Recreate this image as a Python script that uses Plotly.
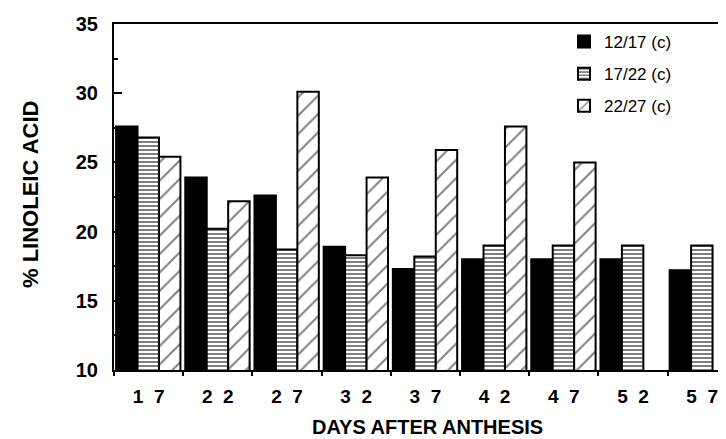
import plotly.graph_objects as go

days = ["1\u00a0\u00a07", "2\u00a0\u00a02", "2\u00a0\u00a07", "3\u00a0\u00a02", "3\u00a0\u00a07",
        "4\u00a0\u00a02", "4\u00a0\u00a07", "5\u00a0\u00a02", "5\u00a0\u00a07"]
s_12_17 = [27.6, 23.9, 22.6, 18.9, 17.3, 18.0, 18.0, 18.0, 17.2]
s_17_22 = [26.8, 20.2, 18.7, 18.3, 18.2, 19.0, 19.0, 19.0, 19.0]
s_22_27 = [25.4, 22.2, 30.1, 23.9, 25.9, 27.6, 25.0, None, None]
names = ["12/17 (c)", "17/22 (c)", "22/27 (c)"]
y_ticks = [10, 15, 20, 25, 30, 35]

W = 0.31
OFF0 = -0.47
FONT = "Liberation Sans, Arial, sans-serif"

fig = go.Figure()
fig.add_trace(go.Bar(x=days, y=s_12_17, name=names[0], legendgroup="a",
                     width=W, offset=OFF0,
                     marker=dict(color="black", line=dict(color="black", width=2))))
fig.add_trace(go.Bar(x=days, y=s_17_22, name=names[1], legendgroup="b",
                     width=W, offset=OFF0 + W,
                     marker=dict(color="white", line=dict(color="black", width=2),
                                 pattern=dict(shape="-", fgcolor="black", bgcolor="white",
                                              size=4, solidity=0.5))))
fig.add_trace(go.Bar(x=days, y=s_22_27, name=names[2], legendgroup="c",
                     width=W, offset=OFF0 + 2 * W,
                     marker=dict(color="white", line=dict(color="black", width=2),
                                 pattern=dict(shape="/", fgcolor="black", bgcolor="white",
                                              size=13, solidity=0.15))))

fig.update_layout(
    width=726, height=439,
    margin=dict(l=106, r=0, t=16, b=77),
    paper_bgcolor="white", plot_bgcolor="white",
    barmode="overlay",
    font=dict(family=FONT, color="black"),
    legend=dict(x=(556 - 106) / 620, y=1.0, xanchor="left", yanchor="top",
                font=dict(size=17, family=FONT),
                bgcolor="rgba(0,0,0,0)", tracegroupgap=7),
    showlegend=True,
)
fig.update_xaxes(
    type="category", categoryorder="array", categoryarray=days,
    range=[-0.5, 8.46], showline=True, linewidth=2, linecolor="black", mirror=True,
    ticks="outside", tickson="boundaries", ticklen=4, tickwidth=2, tickcolor="black",
    showgrid=False, zeroline=False,
    tickfont=dict(size=19, family=FONT, weight="bold"),
    ticklabelstandoff=8,
)
fig.update_yaxes(
    range=[10, 35], tickvals=y_ticks, showline=True, linewidth=2, linecolor="black",
    ticks="inside", ticklen=8, tickwidth=2, tickcolor="black",
    minor=dict(dtick=2.5, ticks="inside", ticklen=4, tickwidth=2, tickcolor="black", showgrid=False),
    showgrid=False, zeroline=False,
    tickfont=dict(size=20, family=FONT, weight="bold"),
    ticklabelstandoff=10,
)
fig.add_annotation(text="% LINOLEIC ACID", xref="paper", yref="paper",
                   x=(22 - 106) / 620, y=(362 - 186) / 346, textangle=-90,
                   showarrow=False, xanchor="center", yanchor="middle",
                   font=dict(size=22, family=FONT, weight="bold"))
fig.add_annotation(text="DAYS AFTER ANTHESIS", xref="paper", yref="paper",
                   x=(419 - 106) / 620, y=(362 - 419) / 346,
                   showarrow=False, xanchor="center", yanchor="middle",
                   font=dict(size=20, family=FONT, weight="bold"))

fig.write_html("out.html")
